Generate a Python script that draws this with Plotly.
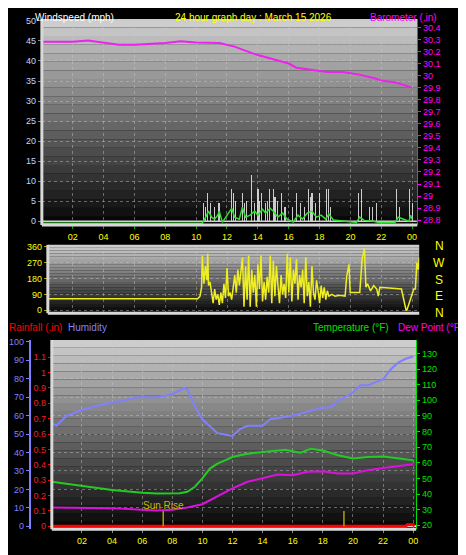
import plotly.graph_objects as go

# ── Data ──────────────────────────────────────────────
baro_t = [0, 1, 2, 3, 4, 5, 6, 7, 8, 9, 10, 11.5, 12.5, 13, 14, 15, 16, 16.5, 17.5, 18.5, 19.5, 20.5, 21.5, 22, 23, 24]
baro_v = [30.28, 30.28, 30.28, 30.29, 30.27, 30.255, 30.255, 30.26, 30.27, 30.285, 30.275, 30.27, 30.24, 30.215, 30.17,
          30.135, 30.10, 30.065, 30.045, 30.03, 30.03, 30.01, 29.98, 29.96, 29.94, 29.90]

gust_t = [10.45, 10.6, 10.7, 10.95, 11.2, 11.45, 11.5, 12.3, 12.4, 12.55, 13.0, 13.1, 13.25, 13.55, 13.75, 14.0,
          14.1, 14.25, 14.5, 14.6, 14.75, 15.0, 15.1, 15.25, 15.5, 15.75, 16.25, 16.5, 16.75, 17.0, 17.25, 17.4,
          17.5, 17.75, 18.0, 18.45, 18.6, 18.7, 20.5, 20.7, 21.2, 21.45, 21.7, 23.0, 23.2, 23.8, 24.0]
gust_v = [4.5, 3.5, 7, 4.5, 3.5, 4.5, 4.5, 8, 7, 5, 7, 4.5, 5, 11.5, 4.5, 8, 5, 7, 4.5, 5, 8, 8, 6, 5, 7, 3.5,
          3.5, 7, 4.5, 3.5, 8, 6, 7, 4.5, 7, 8, 8, 3.5, 7, 8, 3.5, 3.5, 4.5, 8, 3.5, 8, 4.5]
avg_t = [0, 10.4, 10.6, 10.8, 11.0, 11.2, 11.4, 11.5, 11.7, 12.3, 12.5, 12.8, 13.0, 13.2, 13.5, 13.8, 14.0, 14.3,
         14.5, 14.8, 15.0, 15.3, 15.6, 15.9, 16.3, 16.6, 16.9, 17.2, 17.5, 17.8, 18.1, 18.4, 18.6, 18.9, 20.4,
         20.6, 20.9, 21.5, 21.8, 22.9, 23.1, 23.8, 23.9, 24.0]
avg_v = [-0.5, -0.5, 0.8, 2.5, 1.0, 0.5, 1.5, 2.5, -0.3, 3.2, 1.0, 0.5, 3.5, 1.0, 1.5, 2.5, 1.5, 3.0, 2.0, 3.2,
         2.5, 1.0, 2.0, 0.5, -0.2, 1.5, 0.5, 2.0, 2.5, 1.0, 1.5, 0.5, 1.8, 0.3, -0.3, 1.0, 0.2, 0.0, -0.3, -0.3,
         1.0, 0.0, 1.5, 0.5]

dir_t = [0.4, 10.1, 10.25, 10.35, 10.4, 10.5, 10.6, 10.7, 10.75, 10.8, 10.9, 11.0, 11.1, 11.2, 11.3, 11.4, 11.5,
         11.6, 11.7, 11.8, 11.9, 12.0, 12.1, 12.2, 12.3, 12.4, 12.5, 12.6, 12.7, 12.8, 12.9, 13.0, 13.1, 13.2, 13.3,
         13.4, 13.5, 13.6, 13.7, 13.8, 13.9, 14.0, 14.1, 14.2, 14.3, 14.4, 14.5, 14.6, 14.7, 14.8, 14.9, 15.0,
         15.1, 15.2, 15.3, 15.4, 15.5, 15.6, 15.7, 15.8, 15.9, 16.0, 16.1, 16.2, 16.3, 16.4, 16.5, 16.6, 16.7,
         16.8, 16.9, 17.0, 17.1, 17.2, 17.3, 17.4, 17.5, 17.6, 17.7, 17.8, 17.9, 18.0, 18.1, 18.2, 18.3, 18.4,
         18.5, 18.6, 18.8, 19.0, 19.3, 19.65, 19.75, 19.9, 19.98, 20.6, 20.75, 20.9, 21.0, 21.1, 21.3, 21.5,
         21.7, 21.8, 21.9, 23.2, 23.3, 23.6, 23.65, 24.1, 24.2, 24.3, 24.4, 24.45]
dir_v = [65, 65, 80, 130, 310, 150, 250, 170, 320, 140, 160, 90, 40, 120, 60, 90, 30, 100, 40, 150, 70, 240, 80,
         100, 60, 130, 200, 100, 230, 140, 230, 300, 20, 250, 60, 310, 20, 230, 100, 200, 20, 260, 120, 310, 50,
         160, 60, 190, 100, 310, 40, 280, 80, 250, 140, 40, 200, 90, 150, 70, 320, 100, 300, 50, 230, 150, 290,
         60, 200, 130, 230, 40, 300, 80, 160, 20, 250, 100, 60, 170, 110, 40, 140, 70, 130, 60, 110, 80, 90, 80,
         85, 80, 190, 260, 100, 100, 290, 350, 130, 150, 110, 140, 120, 80, 130, 120, 120, 0, 0, 120, 120, 270,
         230, 300, 60]

hum_t = [0, 0.3, 1, 2, 3, 4, 5, 6, 6.5, 7, 8, 8.8, 9, 9.3, 9.6, 10, 10.5, 11, 12, 12.5, 13, 14, 14.5, 15, 16, 17,
         18, 18.5, 19, 20, 20.5, 21, 22, 22.5, 23, 23.5, 24]
hum_v = [56, 54.5, 60, 63, 65.3, 67, 69, 70.3, 69.8, 70, 71.6, 75, 74.3, 69, 63.5, 58, 54.5, 50.5, 49, 52.7, 54.5,
         54.5, 58, 58.5, 60, 62, 64.4, 64.4, 68, 72.5, 76.4, 76.4, 79.7, 85, 88.7, 90.8, 92]

temp_t = [0, 2, 4, 6, 7, 8.5, 9, 9.5, 10, 10.5, 11, 11.5, 12, 12.5, 13, 14, 15, 15.5, 16.5, 17.2, 18, 19, 20, 21, 22, 23, 24]
temp_v = [47.9, 45.1, 42.6, 40.9, 40.3, 40.5, 41.5, 44.7, 50, 56.3, 59.5, 61.6, 63.7, 64.8, 65.8, 66.9, 67.9, 68.4,
          66.5, 69, 67.9, 64.8, 62.7, 63.7, 64.1, 62.7, 61.6]

dew_t = [0, 2, 4, 6, 7, 8, 9, 10, 11, 12, 13, 14, 15, 16, 17, 18, 19, 20, 21, 22, 23, 24]
dew_v = [31.4, 31.4, 31, 29.9, 29.5, 29.9, 31.4, 33.5, 38.4, 43.6, 47.9, 50, 52.5, 52.1, 54.2, 54.6, 53.1, 53.1,
         55.3, 56.7, 57.8, 59]

rain_t = [0, 23.5, 23.6, 23.8, 24.0, 24.1]
rain_v = [0, 0, 0.01, 0.01, 0.01, 0]

sun_t = [7.4, 19.4]

hour_ticks = list(range(2, 25, 2))
hour_labels = ['02', '04', '06', '08', '10', '12', '14', '16', '18', '20', '22', '00']

YEL = '#ffff00'
MAG = '#ff00ff'
GRN = '#00e000'
HUM = '#8080ff'
RED = '#ff0000'
FONT = 'Arial, Liberation Sans, sans-serif'

# page has an 8px body margin, so lay out in a 458x547 box shifted by 8px
W, H, OFF = 458, 547, 8
def px(x): return (x - OFF) / W
def py(y): return 1 - (y - OFF) / H

fig = go.Figure()

# top panel
fig.add_trace(go.Scatter(x=baro_t, y=baro_v, yaxis='y2', xaxis='x', mode='lines',
                         line=dict(color='#ee22ee', width=2), showlegend=False))
fig.add_trace(go.Bar(x=gust_t, y=gust_v, xaxis='x', yaxis='y', width=0.07,
                     marker=dict(color='rgba(235,235,235,0.85)', line_width=0), showlegend=False))
fig.add_trace(go.Scatter(x=[0, 24.3], y=[0, 0], xaxis='x', yaxis='y', mode='lines',
                         line=dict(color='#d0d0d0', width=1.5), showlegend=False))
fig.add_trace(go.Scatter(x=avg_t, y=avg_v, xaxis='x', yaxis='y', mode='lines',
                         line=dict(color='#33dd33', width=1.5), showlegend=False))

# middle panel
fig.add_trace(go.Scatter(x=dir_t, y=dir_v, xaxis='x2', yaxis='y3', mode='lines',
                         line=dict(color='#eeee22', width=1.5), showlegend=False))

# bottom panel
fig.add_trace(go.Scatter(x=hum_t, y=hum_v, xaxis='x3', yaxis='y4', mode='lines',
                         line=dict(color=HUM, width=2), showlegend=False))
fig.add_trace(go.Scatter(x=temp_t, y=temp_v, xaxis='x3', yaxis='y6', mode='lines',
                         line=dict(color='#22cc22', width=2), showlegend=False))
fig.add_trace(go.Scatter(x=dew_t, y=dew_v, xaxis='x3', yaxis='y6', mode='lines',
                         line=dict(color='#dd11dd', width=2), showlegend=False))
fig.add_trace(go.Scatter(x=rain_t, y=rain_v, xaxis='x3', yaxis='y5', mode='lines',
                         line=dict(color=RED, width=3), showlegend=False))
fig.add_trace(go.Scatter(x=[sun_t[0], sun_t[0], None, sun_t[1], sun_t[1]], y=[0, 0.1, None, 0, 0.1],
                         xaxis='x3', yaxis='y5', mode='lines', line=dict(color='#b0a000', width=1.5),
                         showlegend=False))

shapes = []
# gradient backgrounds
for xr, yr in [('x domain', 'y domain'), ('x2 domain', 'y3 domain'), ('x3 domain', 'y4 domain')]:
    n = 24
    for i in range(n):
        g = int(205 * (i + 1) / n)
        shapes.append(dict(type='rect', xref=xr, yref=yr, x0=0, x1=1, y0=i / n, y1=(i + 1) / n,
                           fillcolor=f'rgb({g},{g},{g})', line_width=0, layer='below'))
    shapes.append(dict(type='line', xref=xr, yref=yr, x0=0, x1=0, y0=0, y1=1, line=dict(color='#d8d8d8', width=3)))
    shapes.append(dict(type='line', xref=xr, yref=yr, x0=0, x1=1, y0=0, y1=0, line=dict(color='#d8d8d8', width=3)))

grid = dict(showgrid=True, gridcolor='rgba(200,200,200,0.45)', griddash='dot', gridwidth=1, zeroline=False)
tickf = dict(family=FONT, size=9)

fig.update_layout(
    width=W, height=H, margin=dict(l=0, r=0, t=0, b=0), bargap=0,
    paper_bgcolor='black', plot_bgcolor='black', shapes=shapes,
    xaxis=dict(domain=[px(42), px(419)], anchor='y', range=[0, 24.33], tickvals=hour_ticks, ticktext=hour_labels,
               tickfont=dict(color=YEL, **tickf), ticks='outside', ticklen=3, tickcolor='#00aa00', **grid),
    yaxis=dict(domain=[py(224), py(16)], anchor='x', range=[-0.96, 50.5], tickvals=list(range(0, 51, 5)),
               tickfont=dict(color='#c0d8ff', **tickf), ticks='outside', ticklen=3, tickcolor='#888', **grid),
    yaxis2=dict(overlaying='y', side='right', anchor='x', range=[28.76, 30.47],
                tickvals=[28.8 + 0.1 * i for i in range(17)],
                ticktext=['28.8', '28.9', '29', '29.1', '29.2', '29.3', '29.4', '29.5', '29.6', '29.7', '29.8',
                          '29.9', '30', '30.1', '30.2', '30.3', '30.4'],
                tickfont=dict(color=MAG, **tickf), ticks='outside', ticklen=3, tickcolor=MAG, showgrid=False,
                showline=True, linecolor=MAG, linewidth=1),
    xaxis2=dict(domain=[px(48), px(421)], anchor='y3', range=[0.39, 24.45], showticklabels=False,
                tickvals=hour_ticks, **grid),
    yaxis3=dict(domain=[py(313), py(244)], anchor='x2', range=[-17, 371], tickvals=[0, 90, 180, 270, 360],
                tickfont=dict(color=YEL, **tickf), ticks='outside', ticklen=3, tickcolor='#aaaa00', **grid),
    xaxis3=dict(domain=[px(52), px(418)], anchor='y4', range=[0, 24.2], tickvals=hour_ticks, ticktext=hour_labels,
                tickfont=dict(color=YEL, **tickf), ticks='outside', ticklen=3, tickcolor='#888', **grid),
    yaxis4=dict(domain=[py(531), py(340)], anchor='free', position=px(30), range=[-1.6, 101],
                tickvals=list(range(0, 101, 10)), tickfont=dict(color=HUM, **tickf), ticks='outside', ticklen=3,
                tickcolor=HUM, showline=True, linecolor=HUM, linewidth=2, **grid),
    yaxis5=dict(overlaying='y4', anchor='free', position=px(51), range=[-0.019, 1.212],
                tickvals=[round(0.1 * i, 1) for i in range(12)],
                ticktext=['0', '0.1', '0.2', '0.3', '0.4', '0.5', '0.6', '0.7', '0.8', '0.9', '1', '1.1'],
                tickfont=dict(color='#ee2020', **tickf), ticks='outside', ticklen=3, tickcolor=RED,
                showline=True, linecolor=RED, linewidth=1, showgrid=False),
    yaxis6=dict(overlaying='y4', side='right', anchor='x3', range=[17.5, 138.6], tickvals=list(range(20, 131, 10)),
                tickfont=dict(color=GRN, **tickf), ticks='outside', ticklen=3, tickcolor=GRN, showgrid=False,
                showline=True, linecolor=GRN, linewidth=1),
)

def label(text, x, y, color, xanchor='left', size=11, yanchor='middle'):
    fig.add_annotation(text=text, x=min(max(px(x), 0), 1), y=min(py(y), 1), xref='paper', yref='paper',
                       showarrow=False, xanchor=xanchor, yanchor=yanchor, font=dict(family=FONT, size=size, color=color),
                       borderpad=0)

label('Windspeed (mph)', 34, 0, 'white', size=10, yanchor='top')
label('24 hour graph day : March 15 2026', 255, 0, YEL, 'center', size=10, yanchor='top')
label('Barometer (.in)', 440, 0, MAG, 'right', size=10, yanchor='top')
label('Rainfall (.in)', 0, 327, RED, size=10)
label('Humidity', 67, 327, HUM, size=10)
label('Temperature (°F)', 313, 327, GRN, size=10)
label('Dew Point (°F)', 466, 327, MAG, 'right', size=10)
for i, d in enumerate(['N', 'W', 'S', 'E', 'N']):
    label(d, 441, 245 + i * 17, YEL, 'center', 12)
fig.add_annotation(text='Sun Rise', x=sun_t[0], y=0.135, xref='x3', yref='y5', showarrow=False,
                   font=dict(family=FONT, size=10, color='#c8b400'))

fig.write_html("out.html")
